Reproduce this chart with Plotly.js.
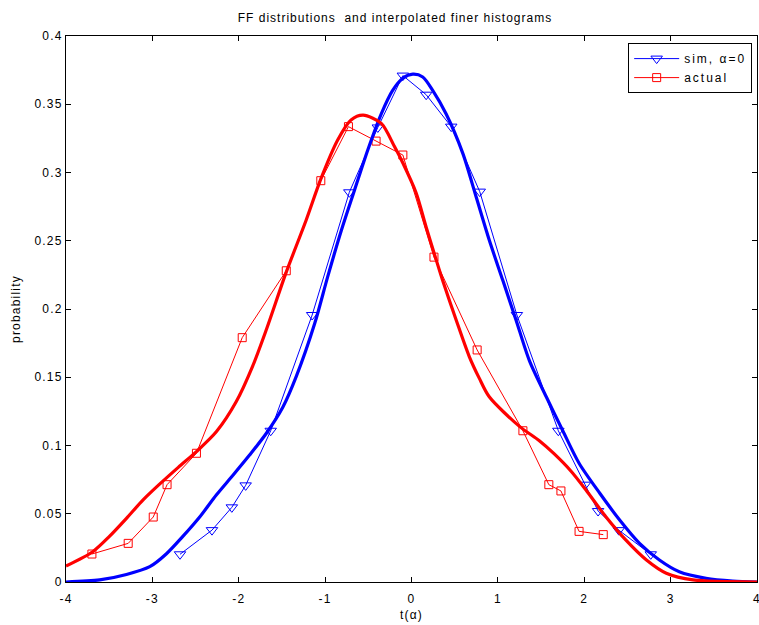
<!DOCTYPE html>
<html>
<head>
<meta charset="utf-8">
<script src="https://cdn.plot.ly/plotly-3.0.1.min.js"></script>
<style>
html,body{margin:0;padding:0;background:#fff}
#chart{width:759px;height:625px}
svg text{letter-spacing:1.2px}
svg text.gtitle{letter-spacing:1px}
svg text.legendtext{letter-spacing:2px}
</style>
</head>
<body>
<div id="chart"></div>
<script>
// histogram points: sim, alpha=0
const simX = [-2.68, -2.31, -2.08, -1.92, -1.63, -1.15, -0.72, -0.39, -0.10, 0.17, 0.46, 0.79, 1.22, 1.70, 2.01, 2.16, 2.40, 2.77];
const simY = [0.0203, 0.038, 0.0547, 0.0708, 0.1108, 0.1956, 0.2855, 0.333, 0.371, 0.357, 0.3336, 0.286, 0.1956, 0.1108, 0.0713, 0.052, 0.038, 0.0203];
// histogram points: actual
const actX = [-3.70, -3.28, -2.99, -2.83, -2.49, -1.96, -1.45, -1.05, -0.73, -0.41, -0.10, 0.26, 0.76, 1.29, 1.59, 1.73, 1.94, 2.22];
const actY = [0.0205, 0.0283, 0.0476, 0.0713, 0.0943, 0.179, 0.228, 0.294, 0.3336, 0.323, 0.3128, 0.238, 0.170, 0.1108, 0.0713, 0.0667, 0.0371, 0.0347];
// smooth distribution curves
const simCurveX = [-4, -3.61, -3.30, -3.03, -2.84, -2.65, -2.45, -2.26, -2.07, -1.875, -1.68, -1.49, -1.335, -1.12, -0.97, -0.81, -0.66, -0.506, -0.35, -0.22, -0.10, 0.015, 0.13, 0.247, 0.40, 0.594, 0.749, 0.90, 1.057, 1.21, 1.366, 1.56, 1.75, 1.94, 2.18, 2.41, 2.64, 2.87, 3.10, 3.41, 3.72, 4];
const simCurveY = [0.0, 0.0015, 0.0055, 0.0112, 0.0205, 0.0332, 0.0478, 0.0637, 0.078, 0.093, 0.109, 0.128, 0.1504, 0.1895, 0.2237, 0.258, 0.287, 0.3165, 0.343, 0.360, 0.369, 0.372, 0.370, 0.360, 0.343, 0.314, 0.282, 0.2505, 0.221, 0.192, 0.162, 0.1357, 0.111, 0.087, 0.065, 0.0454, 0.0283, 0.0161, 0.0075, 0.0027, 0.0007, 0.0];
const actCurveX = [-4, -3.69, -3.50, -3.30, -3.11, -2.92, -2.70, -2.49, -2.26, -2.03, -1.84, -1.68, -1.45, -1.22, -1.045, -0.853, -0.70, -0.56, -0.35, -0.197, -0.10, 0.054, 0.17, 0.286, 0.36, 0.517, 0.67, 0.787, 0.90, 1.25, 1.48, 1.65, 1.85, 2.02, 2.25, 2.48, 2.72, 2.95, 3.26, 4];
const actCurveY = [0.0117, 0.0222, 0.0332, 0.0466, 0.060, 0.0715, 0.084, 0.0955, 0.110, 0.132, 0.158, 0.185, 0.227, 0.265, 0.296, 0.324, 0.3385, 0.342, 0.336, 0.319, 0.307, 0.285, 0.260, 0.236, 0.221, 0.192, 0.165, 0.149, 0.1357, 0.114, 0.1035, 0.094, 0.081, 0.0674, 0.0478, 0.0308, 0.0161, 0.0064, 0.0015, 0.0];
const xTicks = [-4, -3, -2, -1, 0, 1, 2, 3, 4];
const yTicks = [0, 0.05, 0.1, 0.15, 0.2, 0.25, 0.3, 0.35, 0.4];
const yTickText = ['0', '0.05', '0.1', '0.15', '0.2', '0.25', '0.3', '0.35', '0.4'];

const FONT = 'Liberation Sans, Arial, Helvetica, sans-serif';
const traces = [
  {x: simX, y: simY, mode: 'lines+markers', name: 'sim, α=0',
   line: {color: '#0000ff', width: 1},
   marker: {symbol: 'triangle-down-open', size: 10, color: '#0000ff', line: {width: 1}}},
  {x: actX, y: actY, mode: 'lines+markers', name: 'actual',
   line: {color: '#ff0000', width: 1},
   marker: {symbol: 'square-open', size: 8, color: '#ff0000', line: {width: 1}}},
  {x: simCurveX, y: simCurveY, mode: 'lines', showlegend: false,
   line: {color: '#0000ff', width: 3.2, shape: 'spline', smoothing: 0.8}},
  {x: actCurveX, y: actCurveY, mode: 'lines', showlegend: false,
   line: {color: '#ff0000', width: 3.2, shape: 'spline', smoothing: 0.8}}
];
const axisCommon = {
  showgrid: false, zeroline: false, showline: true, mirror: 'ticks',
  linecolor: '#000', linewidth: 1, ticks: 'inside', ticklen: 5, tickcolor: '#000',
  tickfont: {family: FONT, size: 12, color: '#000'}, ticklabeloverflow: 'allow'
};
const layout = {
  width: 759, height: 625,
  margin: {l: 66, r: 2, t: 36, b: 43},
  paper_bgcolor: '#fff', plot_bgcolor: '#fff',
  font: {family: FONT, size: 12, color: '#000'},
  title: {text: 'FF distributions  and interpolated finer histograms', xref: 'container', yref: 'container',
    x: 0.5204, xanchor: 'center', y: 0.9712, yanchor: 'middle', font: {family: FONT, size: 12, color: '#000'}},
  xaxis: Object.assign({}, axisCommon, {range: [-4, 4], tickvals: xTicks, ticktext: xTicks.map(String),
    ticklabelstandoff: 6, title: {text: 't(α)', standoff: 5, font: {family: FONT, size: 12}}}),
  yaxis: Object.assign({}, axisCommon, {range: [0, 0.4], tickvals: yTicks, ticktext: yTickText,
    title: {text: 'probability', standoff: 11, font: {family: FONT, size: 12}}}),
  showlegend: true,
  legend: {x: 0.993, y: 0.987, xanchor: 'right', yanchor: 'top', bgcolor: '#fff',
    bordercolor: '#000', borderwidth: 1, font: {family: FONT, size: 12}, tracegroupgap: 0, itemwidth: 45}
};
Plotly.newPlot('chart', traces, layout, {displayModeBar: false, staticPlot: true});
</script>
</body>
</html>
